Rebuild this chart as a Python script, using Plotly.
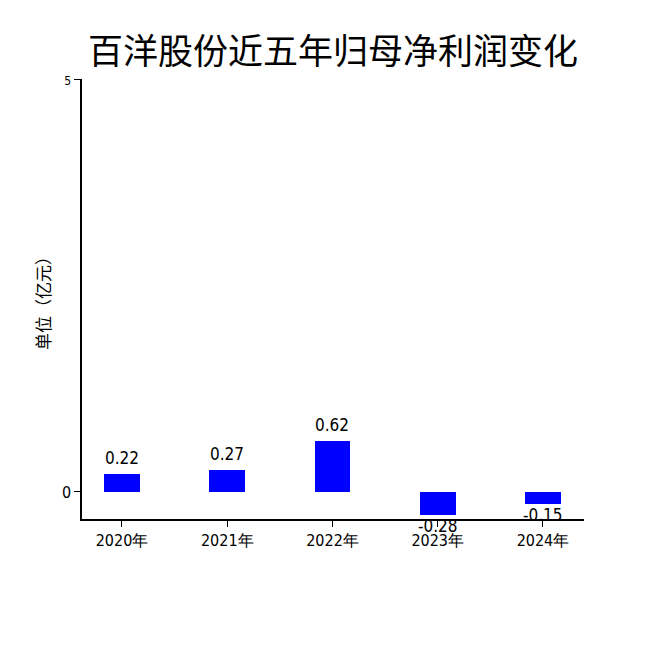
import plotly.graph_objects as go

# data
years = ['2020年', '2021年', '2022年', '2023年', '2024年']
profit = [0.22, 0.27, 0.62, -0.28, -0.15]
y_ticks = [0, 5]
y_tick_text = ['0', '<span style="font-size:12px">5</span>']

title = '百洋股份近五年归母净利润变化'
num_font = 'DejaVu Sans Condensed, sans-serif'
cjk_font = 'Noto Sans CJK SC'

fig = go.Figure()
fig.add_trace(go.Bar(x=list(range(len(years))), y=profit, width=0.34,
                     marker=dict(color='#0000ff', line=dict(width=0)),
                     showlegend=False))

# value labels above / below each bar
for i, v in enumerate(profit):
    fig.add_annotation(x=i, y=v, text=f'{v:.2f}', showarrow=False,
                       yanchor='bottom' if v >= 0 else 'top',
                       yshift=4 if v >= 0 else 1,
                       font=dict(size=17, color='black', family=num_font))

# page body adds an 8px offset, margins compensate for it
fig.update_layout(template='none', width=650, height=650,
                  plot_bgcolor='white', paper_bgcolor='white',
                  margin=dict(l=74, r=74, t=71, b=139, autoexpand=False),
                  font=dict(family=cjk_font, color='black'),
                  title=dict(text=title, x=0.5, xanchor='center', y=0.932, yanchor='middle',
                             font=dict(size=35, family=cjk_font, color='black')),
                  bargap=0)

fig.update_xaxes(range=[-0.38, 4.39], tickvals=list(range(len(years))), ticktext=years,
                 showgrid=False, zeroline=False, showline=True, linecolor='black', linewidth=1.5,
                 ticks='outside', ticklen=6, tickcolor='black', automargin=False,
                 tickfont=dict(size=16, family=num_font))
fig.update_yaxes(range=[-0.327, 5], tickvals=y_ticks, ticktext=y_tick_text,
                 showgrid=False, zeroline=False, showline=True, linecolor='black', linewidth=1.5,
                 ticks='outside', ticklen=6, tickcolor='black', automargin=False,
                 tickfont=dict(size=16, family=num_font),
                 title=dict(text='单位（亿元）', standoff=7,
                            font=dict(size=17, family=cjk_font, color='black')))

fig.write_html('out.html')
